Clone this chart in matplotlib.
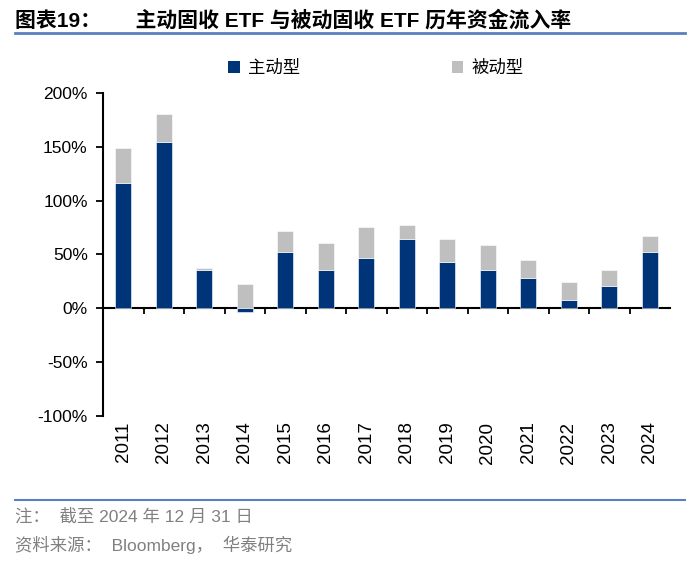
import numpy as np
import matplotlib
matplotlib.use("Agg")
import matplotlib.pyplot as plt
from matplotlib.patches import Patch
from matplotlib.lines import Line2D
from matplotlib.ticker import FuncFormatter

plt.rcParams['font.family'] = ['Liberation Sans', 'Noto Sans CJK SC', 'DejaVu Sans']

years = ['2011', '2012', '2013', '2014', '2015', '2016', '2017', '2018',
         '2019', '2020', '2021', '2022', '2023', '2024']
active = [116.7, 154.4, 35.9, -3.4, 52.6, 35.9, 47.0, 64.0,
          43.4, 35.9, 28.3, 7.5, 21.0, 52.6]
passive = [32.0, 26.4, 1.9, 22.9, 19.0, 24.4, 28.5, 13.2,
           20.6, 22.5, 16.8, 17.0, 14.7, 15.0]
series_names = ['主动型', '被动型']
yticks = [-100, -50, 0, 50, 100, 150, 200]

c_active = '#003478'
c_passive = '#BFBFBF'

fig = plt.figure(figsize=(7.0, 5.62), dpi=100)
ax = fig.add_axes([103/700, 1-416/562, (670-103)/700, (416-93)/562])

x = np.arange(len(years))
act = np.array(active)
pas = np.array(passive)
bottom = np.where(act > 0, act, 0)
w = 0.4
ax.bar(x, act, width=w, color=c_active, edgecolor='white', linewidth=0.4, zorder=3)
ax.bar(x, pas, width=w, bottom=bottom, color=c_passive, edgecolor='white', linewidth=0.4, zorder=3)

ymin, ymax = -100, 200
ax.set_ylim(ymin, ymax)
ax.set_xlim(-0.5, len(years) - 0.5)
ax.set_yticks(yticks)
ax.yaxis.set_major_formatter(FuncFormatter(lambda v, p: f'{int(v)}%'))
ax.tick_params(axis='y', direction='out', length=5, width=1.3, labelsize=12.5, pad=6)

for s in ['top', 'right', 'bottom']:
    ax.spines[s].set_visible(False)
ax.spines['left'].set_linewidth(1.5)

ax.set_xticks(x)
ax.set_xticklabels(years, rotation=90, fontsize=13.5)
ax.tick_params(axis='x', length=0, pad=4)

loc = (0 - ymin) / (ymax - ymin)
sec = ax.secondary_xaxis(loc)
sec.set_xticks(x[:-1] + 0.5)
sec.set_xticklabels([])
sec.tick_params(direction='out', length=4, width=1.3)
sec.spines['bottom'].set_linewidth(1.5)

handles = [Patch(facecolor=c_active), Patch(facecolor=c_passive)]
fig.legend(handles, series_names, loc='center', bbox_to_anchor=(376/700, 1-68/562),
           ncol=2, frameon=False, handlelength=0.65, handleheight=0.65,
           handletextpad=0.5, columnspacing=8.7,
           prop={'family': ['Noto Sans CJK SC'], 'size': 12.5})

fig.text(15/700, 1-20/562, '图表19：      主动固收 ETF 与被动固收 ETF 历年资金流入率',
         fontsize=15, fontweight='bold', va='center', ha='left', color='black')
fig.add_artist(Line2D([15/700, 685/700], [1-33/562, 1-33/562], transform=fig.transFigure,
                      color='#5A7FBF', linewidth=2))
fig.add_artist(Line2D([15/700, 685/700], [1-500/562, 1-500/562], transform=fig.transFigure,
                      color='#5A7FBF', linewidth=1.5))
fig.text(15/700, 1-516/562, '注：  截至 2024 年 12 月 31 日', fontsize=12.5,
         color='#808080', va='center', ha='left')
fig.text(15/700, 1-545/562, '资料来源：  Bloomberg，  华泰研究', fontsize=12.5,
         color='#808080', va='center', ha='left')

fig.savefig('out.png', dpi=100)
